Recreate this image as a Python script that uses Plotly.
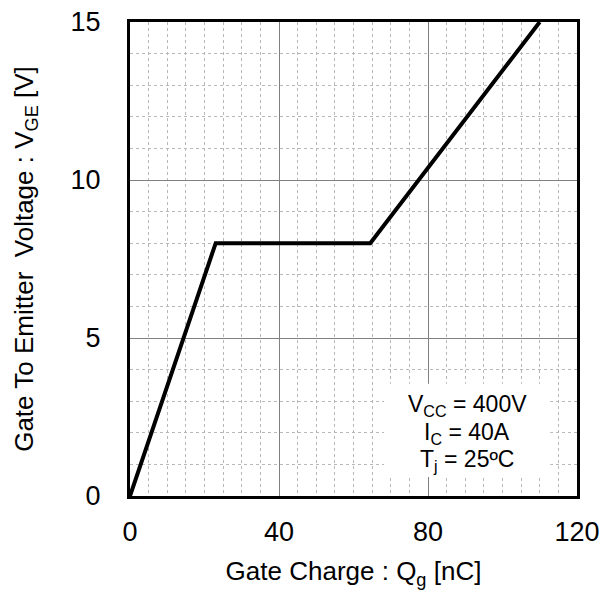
import plotly.graph_objects as go

qg = [0, 23, 64.5, 110]
vge = [0, 8, 8, 15]

x_ticks = [0, 40, 80, 120]
y_ticks = [0, 5, 10, 15]

cond_lines = ["V<sub>CC</sub> = 400V", "I<sub>C</sub> = 40A", "T<sub>j</sub> = 25ºC"]
cond_y = [2.85, 1.97, 1.13]

font = "Liberation Sans, Arial, sans-serif"

fig = go.Figure()
fig.add_trace(go.Scatter(x=qg, y=vge, mode="lines",
                         line=dict(color="black", width=4), showlegend=False))

fig.add_shape(type="rect", x0=68.2, x1=112.8, y0=0.6, y1=3.55,
              fillcolor="white", line=dict(width=0), layer="between")

for t, yy in zip(cond_lines, cond_y):
    fig.add_annotation(x=90.5, y=yy, xref="x", yref="y", text=t,
                       showarrow=False, font=dict(family=font, size=23, color="black"),
                       xanchor="center", yanchor="middle")

fig.update_xaxes(range=[0, 120], tickvals=x_ticks, ticks="", automargin=False,
                 showline=True, linecolor="black", linewidth=3, mirror=True,
                 showgrid=True, gridcolor="#808080", gridwidth=1,
                 minor=dict(dtick=5, tick0=0, showgrid=True, gridcolor="#b8b8b8",
                            griddash="dot", gridwidth=1),
                 zeroline=False, ticklabelstandoff=10,
                 tickfont=dict(family=font, size=27, color="black"),
                 title=dict(text="Gate Charge : Q<sub>g</sub> [nC]",
                            font=dict(family=font, size=26, color="black"),
                            standoff=16))
fig.update_yaxes(range=[0, 15], tickvals=y_ticks, ticks="", automargin=False,
                 showline=True, linecolor="black", linewidth=3, mirror=True,
                 showgrid=True, gridcolor="#808080", gridwidth=1,
                 minor=dict(dtick=1, tick0=0, showgrid=True, gridcolor="#b8b8b8",
                            griddash="dot", gridwidth=1),
                 zeroline=False, ticklabelstandoff=21,
                 tickfont=dict(family=font, size=27, color="black"),
                 title=dict(text="Gate To Emitter  Voltage : V<sub>GE</sub> [V]",
                            font=dict(family=font, size=26, color="black"),
                            standoff=30))

fig.update_layout(width=612, height=591, plot_bgcolor="white", paper_bgcolor="white",
                  margin=dict(l=130, r=35, t=22, b=95, autoexpand=False))

fig.write_html("out.html")
